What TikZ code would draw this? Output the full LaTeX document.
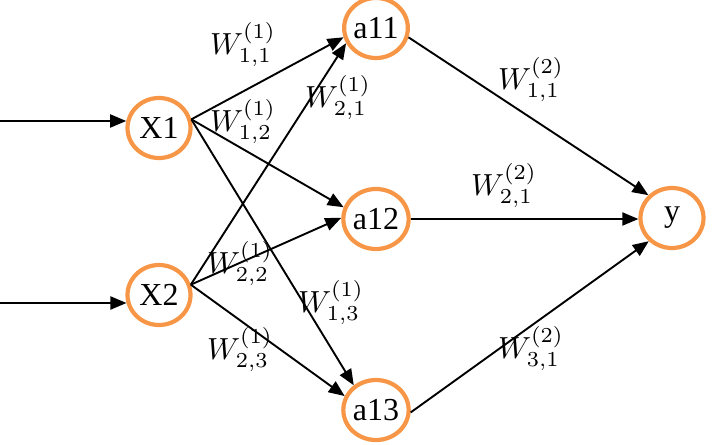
\documentclass[tikz,border=0pt]{standalone}
\usepackage{fontspec}
\setmainfont{Liberation Serif}
\usetikzlibrary{shapes.geometric,arrows.meta}
\definecolor{neuron}{HTML}{F79646}
\newcommand{\wlabtext}[3]{\scalebox{3.05}{$W_{#1,#2}^{(#3)}$}}
\newcommand{\ntext}[1]{\raisebox{-4pt}{#1}}
\begin{document}
\begin{tikzpicture}[x=1pt,y=-1pt,
  neur/.style={ellipse,draw=neuron,line width=4.2pt,minimum width=63pt,minimum height=60pt,inner sep=0pt,font=\fontsize{32}{34}\selectfont},
  conn/.style={line width=1.9pt,-{Triangle[length=16pt,width=13pt]}},
  wlab/.style={inner sep=0pt}]
\useasboundingbox (0,0) rectangle (722,444);
\node[neur] (X1) at (159,128) {\ntext{X1}};
\node[neur] (X2) at (159,295) {\ntext{X2}};
\node[neur] (a11) at (376,28) {\ntext{a11}};
\node[neur] (a12) at (376,219) {\ntext{a12}};
\node[neur] (a13) at (376,410) {\ntext{a13}};
\node[neur] (y) at (672,218) {\ntext{y}};
\coordinate (in1) at (0,121);
\coordinate (in2) at (0,303);
\draw[conn] (in1) -- (in1 -| X1.168);
\draw[conn] (in2) -- (in2 -| X2.194);
\draw[conn] (X1.15) -- (a11.196);
\draw[conn] (X2.18) -- (a11.207);
\draw[conn] (X1.15) -- (a12.160);
\draw[conn] (X2.18) -- (a12.178);
\draw[conn] (X1.15) -- (a13.132);
\draw[conn] (X2.18) -- (a13.156);
\draw[conn] (a11.-16) -- (y.136);
\draw[conn] (a12.east) -- (a12.east -| y.west);
\draw[conn] (a13.-4) -- (y.225);
\node[wlab] (w111) at (243,45) {\wlabtext{1}{1}{1}};
\node[wlab] (w121) at (243,122) {\wlabtext{1}{2}{1}};
\node[wlab] (w211) at (338,98) {\wlabtext{2}{1}{1}};
\node[wlab] (w221) at (240,264) {\wlabtext{2}{2}{1}};
\node[wlab] (w131) at (331,303) {\wlabtext{1}{3}{1}};
\node[wlab] (w231) at (240,350) {\wlabtext{2}{3}{1}};
\node[wlab] (w112) at (531,80) {\wlabtext{1}{1}{2}};
\node[wlab] (w212) at (504,186) {\wlabtext{2}{1}{2}};
\node[wlab] (w312) at (531,349) {\wlabtext{3}{1}{2}};
\end{tikzpicture}
\end{document}
